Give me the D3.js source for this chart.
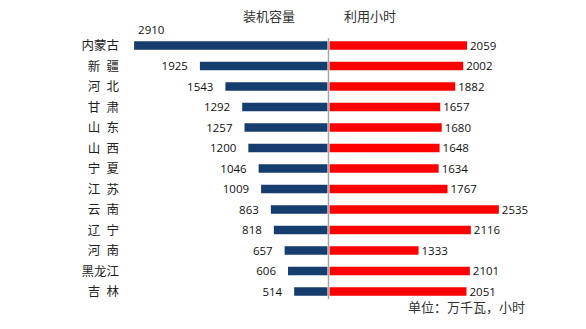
<!DOCTYPE html>
<html><head><meta charset="utf-8">
<script src="https://cdn.jsdelivr.net/npm/d3@7"></script>
<style>
body{margin:0;background:#fff;}
svg text{font-family:"Noto Sans CJK SC","Noto Sans",sans-serif;}
.num{font-family:"Open Sans","Liberation Sans",sans-serif;}
</style></head>
<body>
<svg id="c" width="586" height="329"></svg>
<script>
const categories = ["内蒙古","新疆","河北","甘肃","山东","山西","宁夏","江苏","云南","辽宁","河南","黑龙江","吉林"];
const capacity = [2910,1925,1543,1292,1257,1200,1046,1009,863,818,657,606,514];
const hours = [2059,2002,1882,1657,1680,1648,1634,1767,2535,2116,1333,2101,2051];
const leftTitle = "装机容量", rightTitle = "利用小时", unitText = "单位：万千瓦，小时";

const svg = d3.select("#c");
const cx = 328.5;
const s = d3.scaleLinear().domain([0,3000]).range([0,200.4]);
const y = d3.scalePoint().domain(categories).range([45.5,291.5]);
const bh = 8.5;
const blue = "#153d6e", red = "#ff0000";

// left bars
svg.selectAll(".lb").data(categories).join("rect")
  .attr("x",(d,i)=>cx - s(capacity[i]))
  .attr("y",d=>y(d)-bh/2)
  .attr("width",(d,i)=>s(capacity[i])-1)
  .attr("height",bh).attr("fill",blue);
// right bars
svg.selectAll(".rb").data(categories).join("rect")
  .attr("x",cx+1)
  .attr("y",d=>y(d)-bh/2)
  .attr("width",(d,i)=>s(hours[i]))
  .attr("height",bh).attr("fill",red);

// center line
svg.append("line").attr("x1",cx).attr("x2",cx).attr("y1",38).attr("y2",299)
  .attr("stroke","#a6a6a6").attr("stroke-width",1.5);

// category labels
svg.selectAll(".cat").data(categories).join("text")
  .attr("x",119).attr("y",d=>y(d)).attr("dy","0.36em")
  .attr("text-anchor","end").attr("font-size",12.5).attr("fill","#222")
  .text(d=>d.length===2 ? d[0]+"\u2002"+d[1] : d);

// left value labels
svg.selectAll(".lv").data(categories).join("text")
  .attr("class","num")
  .each(function(d,i){
    const x0 = cx - s(capacity[i]);
    const t = d3.select(this);
    if (x0 - 12 - 28 < 125) {
      t.attr("x",x0+4).attr("y",y(d)-16).attr("text-anchor","start");
    } else {
      t.attr("x",x0-12).attr("y",y(d)).attr("text-anchor","end");
    }
  })
  .attr("dy","0.36em").attr("font-size",11.5).attr("fill","#111")
  .text((d,i)=>capacity[i]);

// right value labels
svg.selectAll(".rv").data(categories).join("text")
  .attr("class","num")
  .attr("x",(d,i)=>cx+1+s(hours[i])+3).attr("y",d=>y(d)).attr("dy","0.36em")
  .attr("font-size",11.5).attr("fill","#111")
  .text((d,i)=>hours[i]);

// titles
svg.append("text").attr("x",243).attr("y",16).attr("dy","0.36em")
  .attr("font-size",13).attr("fill","#333").text(leftTitle);
svg.append("text").attr("x",344).attr("y",16).attr("dy","0.36em")
  .attr("font-size",13).attr("fill","#333").text(rightTitle);
svg.append("text").attr("x",408).attr("y",307.5).attr("dy","0.36em")
  .attr("font-size",13).attr("fill","#333").text(unitText);
</script>
</body></html>
